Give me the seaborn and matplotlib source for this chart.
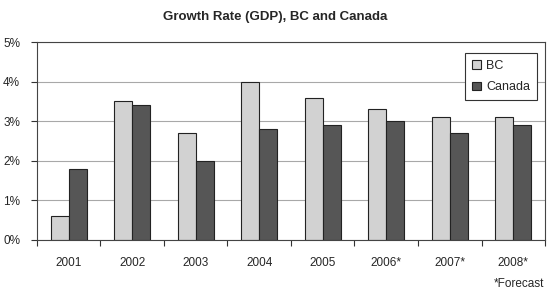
import matplotlib
matplotlib.use("Agg")
import matplotlib.pyplot as plt
import seaborn as sns
import pandas as pd
import numpy as np
from matplotlib.ticker import FixedLocator

years = ["2001", "2002", "2003", "2004", "2005", "2006*", "2007*", "2008*"]
bc = [0.6, 3.5, 2.7, 4.0, 3.6, 3.3, 3.1, 3.1]
canada = [1.8, 3.4, 2.0, 2.8, 2.9, 3.0, 2.7, 2.9]

df = pd.DataFrame({
    "Year": years * 2,
    "Growth": bc + canada,
    "Region": ["BC"] * len(years) + ["Canada"] * len(years),
})

sns.set_style("white")
plt.rcParams['font.family'] = ['Liberation Sans', 'DejaVu Sans']

fig = plt.figure(figsize=(5.5, 3.01), dpi=100)
ax = fig.add_axes([0.067, 0.203, 0.924, 0.657])

sns.barplot(data=df, x="Year", y="Growth", hue="Region",
            palette={"BC": "#d2d2d2", "Canada": "#565656"},
            width=0.57, edgecolor="#222222", linewidth=0.8, ax=ax,
            saturation=1)

ax.set_ylim(0, 5)
ax.set_xlim(-0.5, len(years) - 0.5)
ax.set_yticks([0, 1, 2, 3, 4, 5])
ax.set_yticklabels([f"{v}%" for v in range(6)], fontsize=8.5)
ax.set_xlabel("")
ax.set_ylabel("")
ax.tick_params(axis="x", which="major", length=0, labelsize=8.5, pad=12)
ax.xaxis.set_minor_locator(FixedLocator(np.arange(-0.5, len(years), 1.0)))
ax.tick_params(axis="x", which="minor", length=4, width=0.8, color="#333333", direction="out", bottom=True)
ax.tick_params(axis="y", length=4, width=0.8, color="#333333", direction="out", left=True, pad=8)
ax.yaxis.grid(True, color="#a8a8a8", linewidth=0.8)
ax.set_axisbelow(True)
for s in ax.spines.values():
    s.set_color("#444444")
    s.set_linewidth(0.8)

fig.text(0.5, 0.945, "Growth Rate (GDP), BC and Canada", ha="center", va="center",
         fontsize=9.5, fontweight="bold")
fig.text(0.99, 0.055, "*Forecast", ha="right", va="center", fontsize=8.5)

leg = ax.legend(loc="upper right", bbox_to_anchor=(0.984, 0.944), borderaxespad=0,
                fontsize=9, handlelength=0.7, handleheight=0.7, handletextpad=0.4,
                labelspacing=0.75, borderpad=0.55, frameon=True, fancybox=False,
                edgecolor="#333333", framealpha=1)
leg.get_frame().set_linewidth(0.8)

fig.savefig("out.png", dpi=100)
